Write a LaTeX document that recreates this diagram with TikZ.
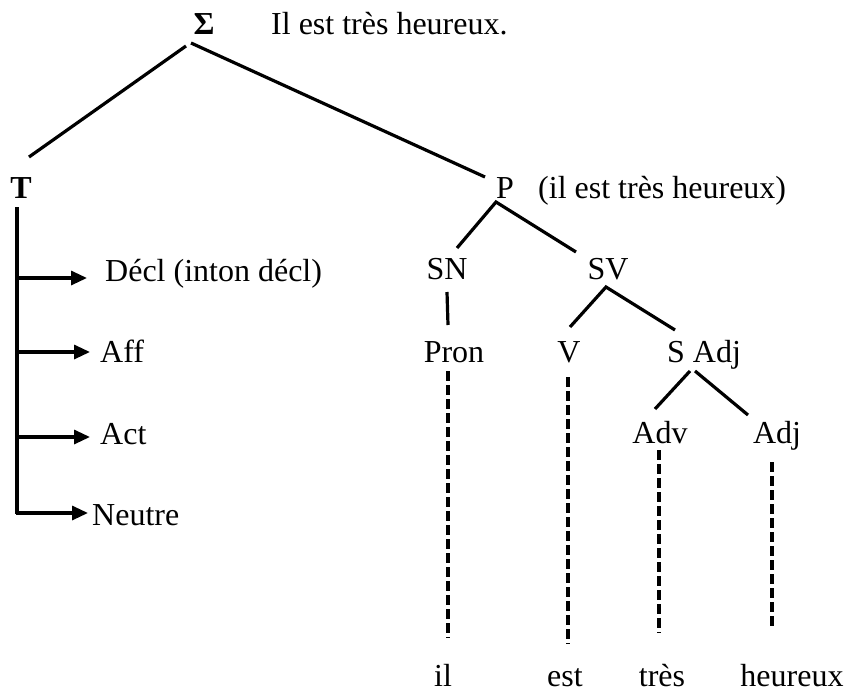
\documentclass[tikz,border=0pt]{standalone}
\usepackage{fontspec}
\setmainfont{Liberation Serif}
\usetikzlibrary{arrows.meta}
\begin{document}
\begin{tikzpicture}[x=1pt,y=-1pt,
  lbl/.style={inner sep=0pt,font=\fontsize{32}{38}\selectfont},
  edge/.style={line width=3.2pt},
  dashln/.style={line width=3.2pt,dash pattern=on 10pt off 4pt},
  arr/.style={line width=3.2pt,-{Triangle[length=16pt,width=14pt]}}]
\useasboundingbox (0,0) rectangle (848,693);
% texts
\node[lbl,anchor=base,font=\fontsize{32}{38}\selectfont\bfseries] (Sigma) at (204,35) {Σ};
\node[lbl,anchor=base west] (phrase) at (271,35) {Il est très heureux.};
\node[lbl,anchor=base,font=\fontsize{32}{38}\selectfont\bfseries] (T) at (21,198) {T};
\node[lbl,anchor=base west] (P) at (496,198) {P};
\node[lbl,anchor=base west] (Pgl) at (538,198) {(il est très heureux)};
\node[lbl,anchor=base] (SN) at (447,279) {SN};
\node[lbl,anchor=base] (SV) at (608,279) {SV};
\node[lbl,anchor=base] (Pron) at (454,362) {Pron};
\node[lbl,anchor=base] (V) at (569,362) {V};
\node[lbl,anchor=base] (SAdj) at (704,362) {S Adj};
\node[lbl,anchor=base] (Adv) at (660,443) {Adv};
\node[lbl,anchor=base] (Adj) at (777,443) {Adj};
\node[lbl,anchor=base] (il) at (443,686) {il};
\node[lbl,anchor=base] (est) at (565,686) {est};
\node[lbl,anchor=base] (tres) at (662,686) {très};
\node[lbl,anchor=base] (heureux) at (792,686) {heureux};
\node[lbl,anchor=base west] (Decl) at (105,281) {Décl (inton décl)};
\node[lbl,anchor=base west] (Aff) at (100,362) {Aff};
\node[lbl,anchor=base west] (Act) at (100,444) {Act};
\node[lbl,anchor=base west] (Neutre) at (92,525) {Neutre};
% connector end points
\coordinate (s1) at (186,46);  \coordinate (t1) at (29,157);
\coordinate (s2) at (191,43);  \coordinate (p1) at (485,177);
\coordinate (p2) at (496,202); \coordinate (sn1) at (457,248);
\coordinate (sv1) at (576,252);
\coordinate (sn2) at (447,292); \coordinate (pr1) at (448,325);
\coordinate (sv2) at (606,287); \coordinate (v1) at (570,327);
\coordinate (sa1) at (675,330);
\coordinate (sa2) at (690,371); \coordinate (adv1) at (655,409);
\coordinate (sa3) at (695,371); \coordinate (adj1) at (748,415);
\coordinate (d1a) at (448,371); \coordinate (d1b) at (448,638);
\coordinate (d2a) at (568,377); \coordinate (d2b) at (568,644);
\coordinate (d3a) at (659,450); \coordinate (d3b) at (659,633);
\coordinate (d4a) at (772,462); \coordinate (d4b) at (772,629);
\coordinate (tv1) at (17,207);  \coordinate (tv2) at (17,514);
\coordinate (a1s) at (17,278); \coordinate (a1e) at (87,278);
\coordinate (a2s) at (17,352); \coordinate (a2e) at (90,352);
\coordinate (a3s) at (17,437); \coordinate (a3e) at (90,437);
\coordinate (a4s) at (15.5,513); \coordinate (a4e) at (88,513);
% tree edges
\draw[edge] (s1) -- (t1);
\draw[edge] (s2) -- (p1);
\draw[edge] (sn1) -- (p2) -- (sv1);
\draw[edge] (sn2) -- (pr1);
\draw[edge] (v1) -- (sv2) -- (sa1);
\draw[edge] (adv1) -- (sa2);
\draw[edge] (sa3) -- (adj1);
\draw[dashln] (d1a) -- (d1b);
\draw[dashln] (d2a) -- (d2b);
\draw[dashln] (d3a) -- (d3b);
\draw[dashln] (d4a) -- (d4b);
% left branch
\draw[edge] (tv1) -- (tv2);
\draw[arr] (a1s) -- (a1e);
\draw[arr] (a2s) -- (a2e);
\draw[arr] (a3s) -- (a3e);
\draw[arr] (a4s) -- (a4e);
\end{tikzpicture}
\end{document}
